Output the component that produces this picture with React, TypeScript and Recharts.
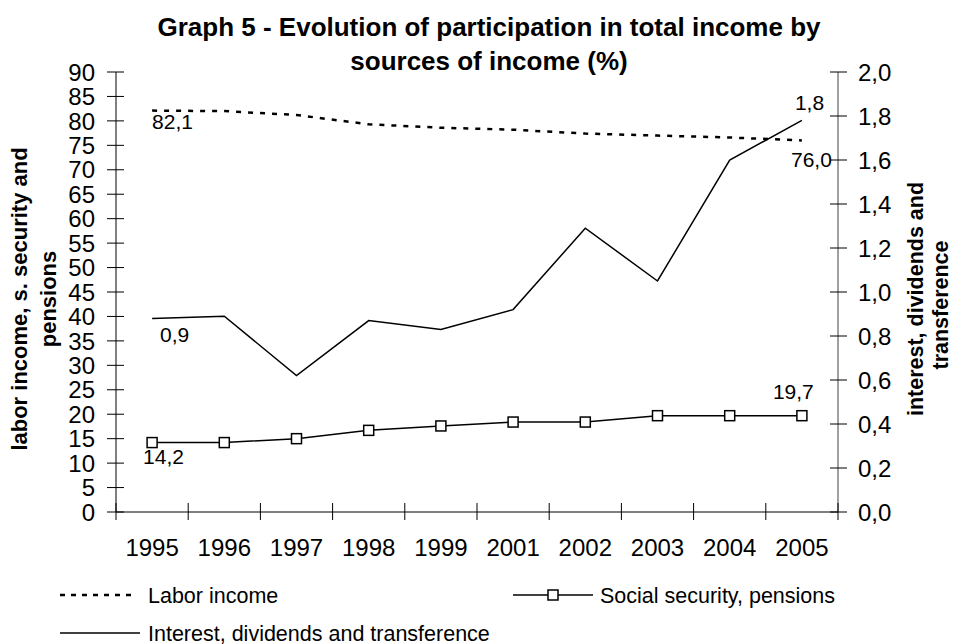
import React from 'react';
import { LineChart, Line, XAxis, YAxis, Legend, LabelList } from 'recharts';

// Survey years shown on the category axis
const years = ['1995', '1996', '1997', '1998', '1999', '2001', '2002', '2003', '2004', '2005'];

// Share of total income (%), left axis
const laborIncome = [82.1, 82.0, 81.2, 79.3, 78.6, 78.2, 77.4, 77.0, 76.6, 76.0];
const socialSecurity = [14.2, 14.2, 15.0, 16.7, 17.6, 18.4, 18.4, 19.7, 19.7, 19.7];

// Share of total income (%), right axis
const interestDividends = [0.88, 0.89, 0.62, 0.87, 0.83, 0.92, 1.29, 1.05, 1.6, 1.78];

const leftTicks = [0, 5, 10, 15, 20, 25, 30, 35, 40, 45, 50, 55, 60, 65, 70, 75, 80, 85, 90];
const rightTicks = [0, 0.2, 0.4, 0.6, 0.8, 1.0, 1.2, 1.4, 1.6, 1.8, 2.0];

const seriesNames: Record<string, string> = {
  labor: 'Labor income',
  social: 'Social security, pensions',
  interest: 'Interest, dividends and transference',
};

const data = years.map((year, i) => ({
  year,
  labor: laborIncome[i],
  social: socialSecurity[i],
  interest: interestDividends[i],
}));

const W = 954;
const H = 644;
const FONT = '"Liberation Sans", Arial, Helvetica, sans-serif';

const comma = (v: number) => Number(v).toFixed(1).replace('.', ',');

function LeftTick(props: any) {
  const { x, y, payload } = props;
  return (
    <g>
      <line x1={x - 9} x2={x + 8} y1={y} y2={y} stroke="#000" strokeWidth={1} />
      <text x={x - 21} y={y} dy="0.36em" textAnchor="end" fontSize={24} fontFamily={FONT} fill="#000">
        {payload.value}
      </text>
    </g>
  );
}

function RightTick(props: any) {
  const { x, y, payload } = props;
  return (
    <g>
      <line x1={x - 8} x2={x + 9} y1={y} y2={y} stroke="#000" strokeWidth={1} />
      <text x={x + 20} y={y} dy="0.36em" textAnchor="start" fontSize={24} fontFamily={FONT} fill="#000">
        {comma(payload.value)}
      </text>
    </g>
  );
}

function YearTick(props: any) {
  const { x, y, payload, index } = props;
  const half = payload && payload.offset ? payload.offset : 36.1;
  const last = index === years.length - 1;
  return (
    <g>
      <line x1={x - half} x2={x - half} y1={y - 9} y2={y + 8} stroke="#000" strokeWidth={1} />
      {last && <line x1={x + half} x2={x + half} y1={y - 9} y2={y + 8} stroke="#000" strokeWidth={1} />}
      <text x={x} y={y + 44} textAnchor="middle" fontSize={24} fontFamily={FONT} fill="#000">
        {payload.value}
      </text>
    </g>
  );
}

function SquareDot(props: any) {
  const { cx, cy, index } = props;
  if (cx == null || cy == null) return null;
  return (
    <rect key={`sq-${index}`} x={cx - 5} y={cy - 5} width={10} height={10} fill="#fff" stroke="#000" strokeWidth={1.5} />
  );
}

// Where the first and last value labels of each series sit, relative to the point
const labelSpots: Record<string, { dx: number; dy: number; anchor: 'start' | 'end' | 'middle' }[]> = {
  labor: [
    { dx: 0, dy: 18, anchor: 'start' },
    { dx: 30, dy: 27, anchor: 'end' },
  ],
  social: [
    { dx: -9, dy: 21, anchor: 'start' },
    { dx: -29, dy: -17, anchor: 'start' },
  ],
  interest: [
    { dx: 8, dy: 24, anchor: 'start' },
    { dx: -7, dy: -10, anchor: 'start' },
  ],
};

function endLabels(key: string) {
  return (props: any) => {
    const { index, value } = props;
    if (index !== 0 && index !== years.length - 1) return null;
    const px = props.x != null ? props.x : props.viewBox?.x;
    const py = props.y != null ? props.y : props.viewBox?.y;
    if (px == null || py == null) return null;
    const spot = labelSpots[key][index === 0 ? 0 : 1];
    return (
      <text
        key={`${key}-lbl-${index}`}
        x={px + spot.dx}
        y={py + spot.dy}
        textAnchor={spot.anchor}
        fontSize={21}
        fontFamily={FONT}
        fill="#000"
      >
        {comma(value)}
      </text>
    );
  };
}

function LegendContent(props: any) {
  const payload: any[] = props.payload || [];
  const nameOf = (k: string) => {
    const item = payload.find((p) => p.dataKey === k);
    return item && item.value ? item.value : seriesNames[k];
  };
  const textProps = { fontSize: 21.5, fontFamily: FONT, fill: '#000', dy: '0.36em' };
  return (
    <svg width={W} height={70} style={{ display: 'block', overflow: 'visible' }}>
      <line x1={60} x2={137} y1={20} y2={20} stroke="#000" strokeWidth={2.5} strokeDasharray="5 6" />
      <text x={148} y={20} {...textProps}>{nameOf('labor')}</text>

      <line x1={513} x2={593} y1={20} y2={20} stroke="#000" strokeWidth={1.5} />
      <rect x={548} y={15} width={10} height={10} fill="#fff" stroke="#000" strokeWidth={1.5} />
      <text x={600} y={20} {...textProps}>{nameOf('social')}</text>

      <line x1={60} x2={140} y1={58} y2={58} stroke="#000" strokeWidth={1.5} />
      <text x={148} y={58} {...textProps}>{nameOf('interest')}</text>
    </svg>
  );
}

export default function App() {
  return (
    <div style={{ position: 'absolute', left: 0, top: 0, width: W, height: H, background: '#fff' }}>
      <LineChart width={W} height={H} data={data} margin={{ top: 72, left: 56, right: 56, bottom: 92 }}>
        <XAxis
          dataKey="year"
          scale="band"
          interval={0}
          height={40}
          axisLine={{ stroke: '#000', strokeWidth: 1 }}
          tickLine={false}
          tickSize={0}
          tickMargin={0}
          tick={YearTick}
        />
        <YAxis
          yAxisId="left"
          orientation="left"
          width={60}
          domain={[0, 90]}
          ticks={leftTicks}
          interval={0}
          axisLine={{ stroke: '#000', strokeWidth: 1 }}
          tickLine={false}
          tickSize={0}
          tickMargin={0}
          tick={LeftTick}
        />
        <YAxis
          yAxisId="right"
          orientation="right"
          width={60}
          domain={[0, 2]}
          ticks={rightTicks}
          interval={0}
          axisLine={{ stroke: '#808080', strokeWidth: 1.5 }}
          tickLine={false}
          tickSize={0}
          tickMargin={0}
          tick={RightTick}
        />
        <Line
          yAxisId="left"
          dataKey="labor"
          name={seriesNames.labor}
          stroke="#000"
          strokeWidth={2.5}
          strokeDasharray="5 7"
          dot={false}
          activeDot={false}
          isAnimationActive={false}
        >
          <LabelList dataKey="labor" content={endLabels('labor')} />
        </Line>
        <Line
          yAxisId="left"
          dataKey="social"
          name={seriesNames.social}
          stroke="#000"
          strokeWidth={1.5}
          dot={SquareDot}
          activeDot={false}
          isAnimationActive={false}
        >
          <LabelList dataKey="social" content={endLabels('social')} />
        </Line>
        <Line
          yAxisId="right"
          dataKey="interest"
          name={seriesNames.interest}
          stroke="#000"
          strokeWidth={1.5}
          dot={false}
          activeDot={false}
          isAnimationActive={false}
        >
          <LabelList dataKey="interest" content={endLabels('interest')} />
        </Line>
        <Legend
          layout="horizontal"
          verticalAlign="middle"
          align="center"
          wrapperStyle={{ position: 'absolute', top: 575, left: 0, width: W, height: 70 }}
          content={LegendContent}
        />
      </LineChart>
      <svg
        width={W}
        height={H}
        style={{ position: 'absolute', left: 0, top: 0, pointerEvents: 'none' }}
      >
        <g fontFamily={FONT} fontWeight="bold" fill="#000">
          <text x={489} y={36} textAnchor="middle" fontSize={26}>
            Graph 5 - Evolution of participation in total income by
          </text>
          <text x={489} y={70} textAnchor="middle" fontSize={26}>
            sources of income (%)
          </text>
          <g transform="rotate(-90)" fontSize={22}>
            <text x={-299} y={27} textAnchor="middle">labor income, s. security and</text>
            <text x={-299} y={56} textAnchor="middle">pensions</text>
          </g>
          <g transform="rotate(-90)" fontSize={21.5}>
            <text x={-299} y={923} textAnchor="middle">interest, dividends and</text>
            <text x={-305} y={948} textAnchor="middle">transference</text>
          </g>
        </g>
      </svg>
    </div>
  );
}
